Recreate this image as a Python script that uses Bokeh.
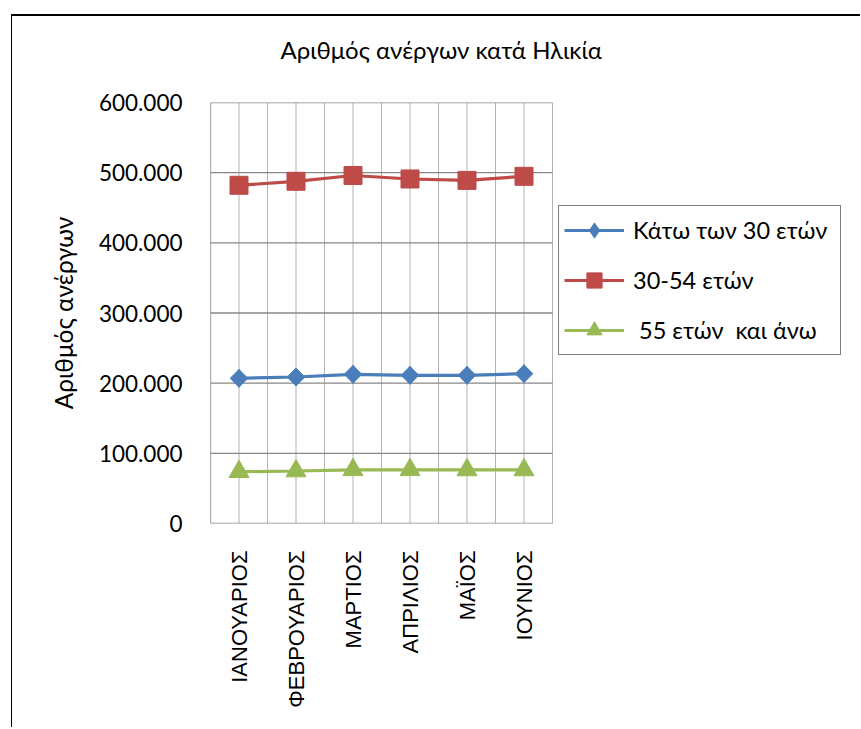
import math
from bokeh.plotting import figure
from bokeh.models import (Range1d, FixedTicker, Legend, LegendItem, ColumnDataSource, Title)
from bokeh.embed import file_html
from bokeh.resources import INLINE

# ---- data ----
months = ["ΙΑΝΟΥΑΡΙΟΣ", "ΦΕΒΡΟΥΑΡΙΟΣ", "ΜΑΡΤΙΟΣ", "ΑΠΡΙΛΙΟΣ", "ΜΑΪΟΣ", "ΙΟΥΝΙΟΣ"]
under_30 = [206900, 208800, 212600, 211200, 211200, 213500]
age_30_54 = [482000, 487700, 496000, 491000, 489000, 494800]
over_55 = [73800, 74800, 76500, 76500, 76300, 76300]
series_names = ["Κάτω των 30 ετών", "30-54 ετών", " 55 ετών  και άνω"]
y_ticks = [0, 100000, 200000, 300000, 400000, 500000, 600000]
y_tick_labels = ["0", "100.000", "200.000", "300.000", "400.000", "500.000", "600.000"]
title_text = "Αριθμός ανέργων κατά Ηλικία"
y_title = "Αριθμός ανέργων"

FONT = "Lato"
BLUE, RED, GREEN = "#4A7EBB", "#BE4B48", "#98B954"
GRID_H, GRID_V = "#878787", "#B3B3B3"

n = len(months)
xpos = [i + 0.5 for i in range(n)]
y_max = y_ticks[-1]

W, H = 849, 713
MB_L, MB_R, MB_T, MB_B = 198, 10, 86, 206
AREA_W = 342  # width of the plotting area (categories); frame extends right to host legend
x_end = n * (W - MB_L - MB_R) / AREA_W

p = figure(width=W, height=H, output_backend="svg", toolbar_location=None,
           x_range=Range1d(0, x_end), y_range=Range1d(0, y_max),
           min_border_left=MB_L, min_border_right=MB_R, min_border_top=MB_T,
           min_border_bottom=MB_B, title=None)
p.margin = (14, 0, 0, 11)
p.styles = {"border-top": "2px solid black", "border-left": "1px solid black"}

p.background_fill_color = "white"
p.border_fill_color = "white"
p.outline_line_color = None
p.xgrid.visible = False
p.ygrid.visible = False

# spacer panel (closest to the frame), then the real title above it
p.add_layout(Title(text="\u200b", text_font_size="1px", standoff=36), "above")
p.add_layout(Title(text=title_text, text_font=FONT, text_font_size="24px",
                   text_font_style="normal", text_color="black",
                   align="left", offset=70, standoff=0), "above")

# grid lines restricted to the plotting area
v_lines = [i / 2 for i in range(2 * n + 1)]
p.segment(x0=v_lines, x1=v_lines, y0=[0] * len(v_lines), y1=[y_max] * len(v_lines),
          line_color=GRID_V, line_width=1)
p.segment(x0=[0] * len(y_ticks), x1=[n] * len(y_ticks), y0=y_ticks, y1=y_ticks,
          line_color=GRID_H, line_width=1.3)
p.segment(x0=[0], x1=[0], y0=[0], y1=[y_max], line_color=GRID_H, line_width=1.3)

# axes
p.xaxis.ticker = FixedTicker(ticks=xpos)
p.xaxis.major_label_overrides = {x: m for x, m in zip(xpos, months)}
p.xaxis.major_label_orientation = math.pi / 2
p.xaxis.major_label_text_font = "Liberation Sans"
p.xaxis.major_label_text_font_size = "22px"
p.xaxis.major_label_text_color = "black"
p.xaxis.major_label_standoff = 21
p.xaxis.major_tick_line_color = None
p.xaxis.minor_tick_line_color = None
p.xaxis.axis_line_color = None

p.yaxis.ticker = FixedTicker(ticks=y_ticks)
p.yaxis.major_label_overrides = {t: l for t, l in zip(y_ticks, y_tick_labels)}
p.yaxis.major_label_text_font = FONT
p.yaxis.major_label_text_font_size = "22.5px"
p.yaxis.major_label_text_color = "black"
p.yaxis.major_label_standoff = 22
p.yaxis.major_tick_line_color = None
p.yaxis.minor_tick_line_color = None
p.yaxis.axis_line_color = None
p.yaxis.axis_label = y_title
p.yaxis.axis_label_text_font = FONT
p.yaxis.axis_label_text_font_size = "24.5px"
p.yaxis.axis_label_text_font_style = "normal"
p.yaxis.axis_label_text_color = "black"
p.yaxis.axis_label_standoff = 18

# series
items = []
src_u30 = ColumnDataSource(dict(x=xpos, y=under_30))
src_mid = ColumnDataSource(dict(x=xpos, y=age_30_54))
src_o55 = ColumnDataSource(dict(x=xpos, y=over_55))

ln1 = p.line("x", "y", source=src_u30, line_color=BLUE, line_width=3.2)
p.scatter("x", "y", source=src_u30, marker="square", size=12.5, angle=math.pi / 4,
          fill_color=BLUE, line_color=BLUE)
sc1 = p.scatter("x", "y", source=src_u30, marker="diamond", size=18,
                fill_color=BLUE, line_color=BLUE)

ln2 = p.line("x", "y", source=src_mid, line_color=RED, line_width=3.2)
sc2 = p.scatter("x", "y", source=src_mid, marker="square", size=18,
                fill_color=RED, line_color=RED)

ln3 = p.line("x", "y", source=src_o55, line_color=GREEN, line_width=3.2)
sc3 = p.scatter("x", "y", source=src_o55, marker="triangle", size=20,
                fill_color=GREEN, line_color=GREEN)

for name, rs in zip(series_names, [[ln1, sc1], [ln2, sc2], [ln3, sc3]]):
    items.append(LegendItem(label=name, renderers=rs))

legend = Legend(items=items, location=(AREA_W + 6, 168))
legend.label_text_font = FONT
legend.label_text_font_size = "23.5px"
legend.label_text_color = "black"
legend.glyph_width = 60
legend.glyph_height = 38
legend.label_standoff = 9
legend.label_width = 202
legend.spacing = 12
legend.padding = 5
legend.margin = 0
legend.border_line_color = "black"
legend.border_line_width = 1
legend.background_fill_color = "white"
legend.background_fill_alpha = 1
p.add_layout(legend, "center")

open("out.html", "w").write(file_html(p, INLINE))
